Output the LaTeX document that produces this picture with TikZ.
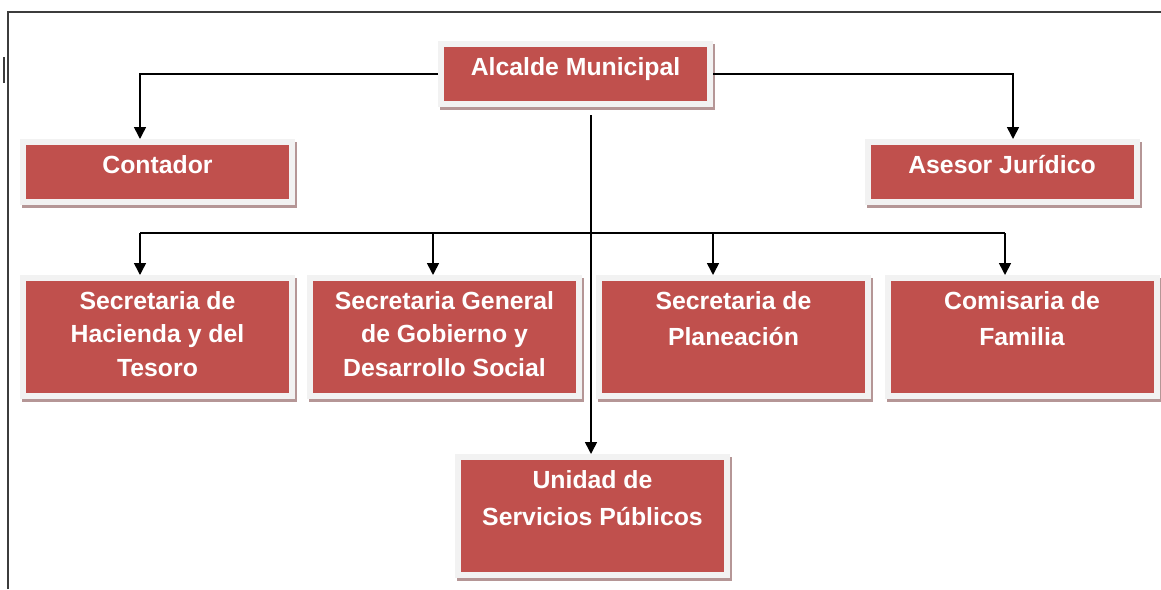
\documentclass[tikz,border=0pt]{standalone}
\usepackage{fontspec}
\setmainfont{Liberation Sans}
\usetikzlibrary{arrows.meta,shadows}

\definecolor{boxred}{RGB}{192,80,77}
\definecolor{framegray}{RGB}{242,242,242}
\definecolor{shadowgray}{RGB}{181,150,150}
\definecolor{edgegray}{RGB}{60,60,60}

\newcommand{\orgtxt}[3][16.75]{\parbox[c][#2][t]{131.5pt}{\centering
  \fontsize{12.4}{#1}\selectfont\bfseries\color{white}\rule{0pt}{14pt}#3}}

\tikzset{
  orgbox/.style={fill=boxred, draw=framegray, line width=3pt, inner sep=1.5pt,
    general shadow={fill=shadowgray, draw=shadowgray, line width=3pt,
      shadow xshift=1pt, shadow yshift=-1.5pt}},
  link/.style={line width=.8pt, black},
  >={Triangle[length=6pt,width=6pt]}
}

\begin{document}
\begin{tikzpicture}[x=0.5pt,y=-0.5pt]
    \useasboundingbox (0,0) rectangle (1161,589);
    % frame
    \draw[edgegray, line width=.75pt] (8,589) -- (8,12) -- (1161,12);
    \draw[edgegray, line width=1pt] (4,57) -- (4,83);
    % boxes
    \node[orgbox] (alcalde) at (575.5,74) {\orgtxt{27pt}{Alcalde Municipal}};
    \node[orgbox] (contador) at (157.5,172) {\orgtxt{27pt}{Contador}};
    \node[orgbox] (asesor) at (1002,172) {\orgtxt{27pt}{Asesor Jurídico}};
    \node[orgbox] (hacienda) at (157.5,337) {\orgtxt{56pt}{Secretaria de\\Hacienda y del\\Tesoro}};
    \node[orgbox] (general) at (444.5,337) {\orgtxt{56pt}{Secretaria General\\de Gobierno y\\Desarrollo Social}};
    \node[orgbox] (planeacion) at (733.5,337) {\orgtxt[18]{56pt}{Secretaria de\\Planeación}};
    \node[orgbox] (comisaria) at (1022,337) {\orgtxt[18]{56pt}{Comisaria de\\Familia}};
    \node[orgbox] (unidad) at (592.5,516) {\orgtxt[18.5]{56pt}{Unidad de\\Servicios Públicos}};
    % drops and bus
    \coordinate (dcont) at (140,73);
    \coordinate (dases) at (1013,73);
    \coordinate (trunk) at (591,233);
    \coordinate (bh) at (140,233);
    \coordinate (bg) at (433,233);
    \coordinate (bp) at (713,233);
    \coordinate (bc) at (1005,233);
    \draw[link,->] (alcalde.west) -| (contador.north -| dcont);
    \draw[link,->] (alcalde.east) -| (asesor.north -| dases);
    \draw[link,->] ([yshift=-4pt]alcalde.south -| trunk) -- (unidad.north -| trunk);
    \draw[link] (bh) -- (bc);
    \foreach \n/\b in {hacienda/bh, general/bg, planeacion/bp, comisaria/bc}
      \draw[link,->] (\b) -- (\n.north -| \b);
\end{tikzpicture}
\end{document}
